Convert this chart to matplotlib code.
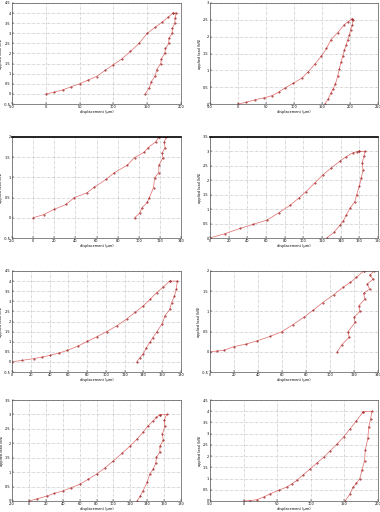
import numpy as np
import matplotlib
matplotlib.use('Agg')
import matplotlib.pyplot as plt

# ---- data (load / unload branches per panel) ----
p1_load_x = [0, 12, 25, 38, 50, 62, 75, 88, 100, 112, 125, 138, 150, 162, 172, 181, 188]
p1_load_y = [0, 0.08, 0.2, 0.36, 0.5, 0.68, 0.86, 1.17, 1.45, 1.72, 2.1, 2.5, 3.0, 3.3, 3.55, 3.8, 4.0]
p1_unload_x = [193, 191, 191, 187, 187, 182, 182, 177, 176, 171, 170, 164, 162, 156, 153, 147]
p1_unload_y = [4.0, 3.75, 3.5, 3.25, 3.0, 2.75, 2.5, 2.25, 2.0, 1.75, 1.5, 1.2, 0.9, 0.6, 0.3, 0]

p2_load_x = [0, 15, 31, 46, 61, 73, 84, 99, 114, 125, 137, 149, 158, 166, 178, 190, 197, 203]
p2_load_y = [0, 0.05, 0.13, 0.18, 0.25, 0.36, 0.48, 0.62, 0.77, 0.95, 1.18, 1.42, 1.65, 1.91, 2.12, 2.36, 2.45, 2.52]
p2_unload_x = [205, 204, 201, 199, 196, 193, 190, 187, 184, 181, 178, 174, 170, 166, 161, 155]
p2_unload_y = [2.5, 2.35, 2.2, 2.05, 1.91, 1.75, 1.6, 1.42, 1.25, 1.05, 0.82, 0.6, 0.45, 0.33, 0.15, 0]

p3_load_x = [0, 10, 20, 31, 39, 51, 58, 69, 77, 89, 96, 105, 109, 116, 119]
p3_load_y = [0, 0.08, 0.21, 0.33, 0.5, 0.62, 0.76, 0.95, 1.12, 1.3, 1.49, 1.62, 1.74, 1.88, 2.0]
p3_unload_x = [126, 124, 125, 122, 123, 119, 119, 115, 114, 110, 108, 103, 101, 96]
p3_unload_y = [2.0, 1.87, 1.74, 1.6, 1.49, 1.3, 1.12, 0.99, 0.75, 0.5, 0.38, 0.25, 0.12, 0]

p4_load_x = [0, 16, 32, 46, 61, 74, 86, 95, 103, 112, 121, 130, 139, 146, 153, 157, 160]
p4_load_y = [0, 0.15, 0.33, 0.47, 0.62, 0.88, 1.14, 1.38, 1.61, 1.9, 2.19, 2.43, 2.66, 2.82, 2.95, 2.99, 3.0]
p4_unload_x = [166, 165, 163, 164, 162, 160, 157, 155, 150, 146, 143, 139, 133, 125]
p4_unload_y = [3.0, 2.85, 2.6, 2.35, 2.08, 1.8, 1.49, 1.25, 1.03, 0.8, 0.6, 0.44, 0.2, 0]

p5_load_x = [0, 11, 23, 32, 41, 50, 59, 70, 80, 90, 101, 112, 122, 131, 140, 147, 154, 161, 168]
p5_load_y = [0, 0.08, 0.16, 0.24, 0.33, 0.44, 0.57, 0.78, 1.01, 1.24, 1.5, 1.8, 2.12, 2.45, 2.78, 3.1, 3.43, 3.7, 4.0]
p5_unload_x = [176, 175, 173, 170, 168, 163, 160, 154, 150, 147, 143, 140, 136, 133]
p5_unload_y = [4.0, 3.6, 3.25, 2.94, 2.6, 2.29, 1.9, 1.47, 1.2, 0.98, 0.7, 0.41, 0.2, 0]

p6_load_x = [0, 6, 12, 20, 30, 39, 50, 60, 69, 78, 86, 94, 103, 111, 117, 122, 128]
p6_load_y = [0, 0.02, 0.04, 0.13, 0.19, 0.27, 0.38, 0.5, 0.67, 0.85, 1.03, 1.22, 1.41, 1.6, 1.72, 1.84, 2.0]
p6_unload_x = [137, 133, 136, 131, 133, 128, 129, 124, 125, 120, 121, 115, 116, 110, 106]
p6_unload_y = [2.0, 1.9, 1.8, 1.68, 1.55, 1.45, 1.3, 1.14, 1.0, 0.85, 0.73, 0.5, 0.36, 0.18, 0]

p7_load_x = [0, 10, 21, 30, 40, 50, 60, 70, 80, 90, 100, 110, 120, 128, 135, 141, 147, 151, 155]
p7_load_y = [0, 0.08, 0.17, 0.26, 0.35, 0.46, 0.58, 0.75, 0.93, 1.15, 1.39, 1.65, 1.91, 2.15, 2.38, 2.6, 2.78, 2.9, 2.99]
p7_unload_x = [163, 160, 161, 158, 159, 155, 155, 151, 150, 147, 143, 140, 135, 132, 128]
p7_unload_y = [3.0, 2.8, 2.6, 2.32, 2.1, 1.9, 1.7, 1.51, 1.3, 1.1, 0.93, 0.65, 0.35, 0.18, 0]

p8_load_x = [0, 10, 20, 30, 40, 52, 64, 72, 79, 89, 99, 109, 119, 129, 139, 149, 158, 168, 178]
p8_load_y = [0, 0.02, 0.06, 0.18, 0.33, 0.47, 0.62, 0.77, 0.92, 1.17, 1.43, 1.69, 1.95, 2.24, 2.54, 2.86, 3.2, 3.58, 3.98]
p8_unload_x = [191, 189, 186, 185, 181, 180, 176, 173, 168, 163, 158, 151]
p8_unload_y = [4.0, 3.65, 3.28, 2.8, 2.26, 1.8, 1.36, 1.0, 0.8, 0.62, 0.3, 0]

# tick values per panel
p1_xticks = [-50, 0, 50, 100, 150, 200]
p1_yticks = [-0.5, 0, 0.5, 1, 1.5, 2, 2.5, 3, 3.5, 4, 4.5]
p2_xticks = [-50, 0, 50, 100, 150, 200, 250]
p2_yticks = [0, 0.5, 1, 1.5, 2, 2.5, 3]
p3_xticks = [-20, 0, 20, 40, 60, 80, 100, 120, 140]
p3_yticks = [-0.5, 0, 0.5, 1, 1.5, 2]
p4_xticks = [0, 20, 40, 60, 80, 100, 120, 140, 160, 180]
p4_yticks = [0, 0.5, 1, 1.5, 2, 2.5, 3, 3.5]
p5_xticks = [0, 20, 40, 60, 80, 100, 120, 140, 160, 180]
p5_yticks = [-0.5, 0, 0.5, 1, 1.5, 2, 2.5, 3, 3.5, 4, 4.5]
p6_xticks = [0, 20, 40, 60, 80, 100, 120, 140]
p6_yticks = [-0.5, 0, 0.5, 1, 1.5, 2]
p7_xticks = [-20, 0, 20, 40, 60, 80, 100, 120, 140, 160, 180]
p7_yticks = [0, 0.5, 1, 1.5, 2, 2.5, 3, 3.5]
p8_xticks = [-50, 0, 50, 100, 150, 200]
p8_yticks = [0, 0.5, 1, 1.5, 2, 2.5, 3, 3.5, 4, 4.5]

xlabel = 'displacement (µm)'
ylabel = 'applied load (kN)'

panels = [
    (p1_load_x, p1_load_y, p1_unload_x, p1_unload_y, p1_xticks, p1_yticks),
    (p2_load_x, p2_load_y, p2_unload_x, p2_unload_y, p2_xticks, p2_yticks),
    (p3_load_x, p3_load_y, p3_unload_x, p3_unload_y, p3_xticks, p3_yticks),
    (p4_load_x, p4_load_y, p4_unload_x, p4_unload_y, p4_xticks, p4_yticks),
    (p5_load_x, p5_load_y, p5_unload_x, p5_unload_y, p5_xticks, p5_yticks),
    (p6_load_x, p6_load_y, p6_unload_x, p6_unload_y, p6_xticks, p6_yticks),
    (p7_load_x, p7_load_y, p7_unload_x, p7_unload_y, p7_xticks, p7_yticks),
    (p8_load_x, p8_load_y, p8_unload_x, p8_unload_y, p8_xticks, p8_yticks),
]

W, H = 380, 512
# pixel boxes (left, right, top, bottom) measured on the reference
cols = [(12, 181), (210, 378)]
rows = [(3, 104), (137, 238), (271, 372), (400, 501)]

line_kw = dict(color='#e06a6a', lw=0.5, marker='.', ms=0.9,
               mfc='#9b1c1c', mec='#9b1c1c')

fig = plt.figure(figsize=(W / 100, H / 100), dpi=100)
fig.patch.set_facecolor('white')

for i, (lx, ly, ux, uy, xt, yt) in enumerate(panels):
    l, r = cols[i % 2]
    t, b = rows[i // 2]
    ax = fig.add_axes([l / W, 1 - b / H, (r - l) / W, (b - t) / H])
    # loading branch, then unloading branch joined at the peak
    ax.plot(lx, ly, **line_kw)
    ax.plot([lx[-1]] + ux, [ly[-1]] + uy, **line_kw)
    ax.set_xlim(xt[0], xt[-1])
    ax.set_ylim(yt[0], yt[-1])
    ax.set_xticks(xt)
    ax.set_yticks(yt)
    ax.set_xticklabels([f'{v:g}' for v in xt])
    ax.set_yticklabels([f'{v:g}' for v in yt])
    ax.grid(True, color='#b0b0b0', lw=0.4, linestyle=(0, (4, 2, 1, 2)))
    ax.tick_params(labelsize=2.5, length=1.2, width=0.3, pad=1, direction='in')
    for s in ax.spines.values():
        s.set_linewidth(0.5)
        s.set_color('#555555')
    if i // 2 == 1:
        ax.spines['top'].set_linewidth(1.2)
        ax.spines['top'].set_color('black')
    ax.set_xlabel(xlabel, fontsize=2.5, labelpad=0.5)
    ax.set_ylabel(ylabel, fontsize=2.5, labelpad=0.5)

fig.savefig('out.png', dpi=100)
